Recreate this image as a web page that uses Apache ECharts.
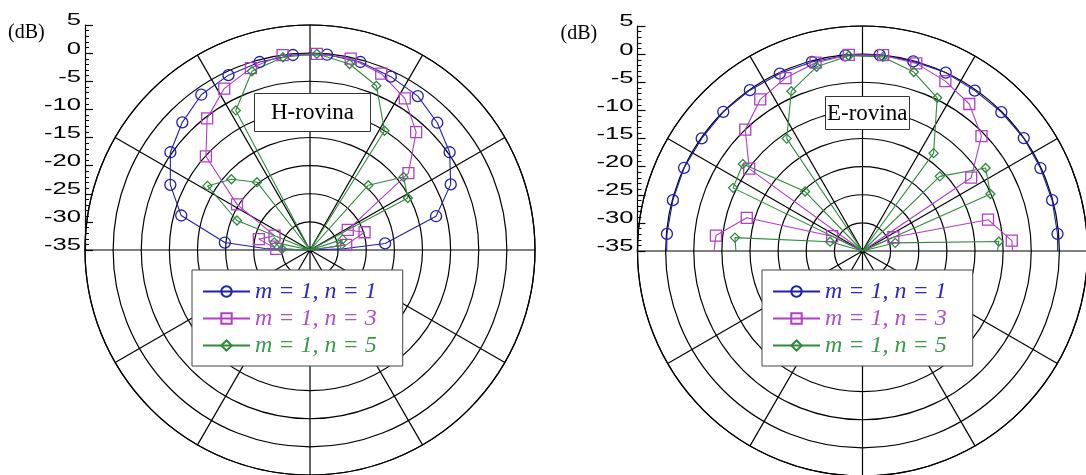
<!DOCTYPE html>
<html>
<head>
<meta charset="utf-8">
<script src="https://cdn.jsdelivr.net/npm/echarts@6/dist/echarts.min.js"></script>
<style>
  html, body { margin: 0; padding: 0; background: #fff; }
  #chart { width: 1086px; height: 475px; }
</style>
</head>
<body>
<div id="chart"></div>
<script>
// Radial level scale in dB (centre = -35 dB, outer ring = +5 dB)
const DB_TICKS = [5, 0, -5, -10, -15, -20, -25, -30, -35];
const DB_MIN = -35;
const DB_MAX = 5;

const PANEL_TITLES = ['H-rovina', 'E-rovina'];
const SERIES_NAMES = ['m = 1, n = 1', 'm = 1, n = 3', 'm = 1, n = 5'];

// Samples are [angle in degrees from broadside, level in dB].
// *_MARKS carry a symbol, *_CURVE are extra curve samples (nulls, end points).

// H-plane
const H_N1_MARKS = [[-85,-19.8],[-75,-11.3],[-65,-7.6],[-55,-4.7],[-45,-2.9],[-35,-1.3],[-25,-0.7],[-15,-0.4],[-5,-0.2],
                    [5,-0.15],[15,-0.4],[25,-1.0],[35,-1.6],[45,-3.0],[55,-4.7],[65,-7.4],[75,-11.8],[85,-21.6]];
const H_N1_CURVE = [[-90,-35],[-88,-27],[88,-29],[90,-35]];

const H_N3_MARKS = [[-88,-29.0],[-78,-25.7],[-68,-28.2],[-58,-19.7],[-48,-10.1],[-38,-5.3],[-28,-2.5],[-18,-1.0],[-8,0.0],
                    [2,-0.1],[12,-0.2],[22,-1.2],[32,-3.2],[42,-6.8],[52,-12.8],[62,-27.4],[72,-24.8],[82,-28.5]];
const H_N3_CURVE = [[-90,-35],[90,-35]];

const H_N5_MARKS = [[-88,-30.0],[-78,-28.5],[-68,-21.0],[-58,-13.5],[-48,-16.2],[-38,-19.7],[-28,-6.9],[-18,-1.6],[-8,-0.4],
                    [2,-0.1],[12,-1.2],[22,-3.5],[32,-10.0],[42,-19.5],[52,-13.9],[62,-15.3],[72,-28.9],[82,-29.5]];
const H_N5_CURVE = [[-90,-35],[-73,-35],[-34,-35],[37,-35],[68,-35],[90,-35]];

// E-plane
const E_N1_MARKS = [[-85,-0.1],[-75,-0.1],[-65,0.0],[-55,-0.1],[-45,0.0],[-35,-0.1],[-25,-0.2],[-15,-0.2],[-5,-0.1],
                    [5,0.0],[15,-0.1],[25,0.0],[35,-0.2],[45,-0.1],[55,0.0],[65,-0.1],[75,-0.1],[85,-0.2]];
const E_N1_CURVE = [[-90,-0.2],[90,-0.3]];

const E_N3_MARKS = [[-84,-8.8],[-74,-13.6],[-64,-29.0],[-54,-10.1],[-44,-5.0],[-34,-2.5],[-24,-1.35],[-14,-0.5],[-4,-0.05],
                    [6,0.0],[16,-0.3],[26,-1.4],[36,-2.7],[46,-5.6],[56,-11.7],[66,-29.0],[76,-12.0],[86,-8.4]];
const E_N3_CURVE = [[-90,-8.6],[-62,-35],[64,-35],[90,-8.3]];

const E_N5_MARKS = [[-84,-12.2],[-74,-29.0],[-64,-9.4],[-54,-8.7],[-44,-20.3],[-34,-10.9],[-24,-3.9],[-14,-1.25],[-4,-0.2],
                    [6,-0.3],[16,-1.9],[26,-4.7],[36,-13.5],[46,-15.9],[56,-8.6],[66,-10.1],[76,-29.0],[86,-10.7]];
const E_N5_CURVE = [[-90,-12.5],[-71,-35],[-39,-35],[40,-35],[73,-35],[90,-11.0]];

// Styling
const LINE_COLORS = ['#1f1fb0', '#b43cc8', '#2e8b3c'];
const TEXT_COLORS = ['#2a2acc', '#b04ed0', '#3a9a48'];
const SYMBOLS = ['circle', 'rect', 'diamond'];
const SYMBOL_SIZES = [11, 11, 9];
const INK = '#000';
const GRID_WIDTH = 1.2;

const PANELS = [
  { center: [310, 250], axisX: 85, top: 25, title: { left: 254, top: 93, padding: [8, 17, 8, 17] }, legendLeft: 192,
    sets: [[H_N1_MARKS, H_N1_CURVE], [H_N3_MARKS, H_N3_CURVE], [H_N5_MARKS, H_N5_CURVE]] },
  { center: [862.5, 251], axisX: 637.5, top: 26, title: { left: 825, top: 96, padding: [6, 2, 5, 2] }, legendLeft: 762,
    sets: [[E_N1_MARKS, E_N1_CURVE], [E_N3_MARKS, E_N3_CURVE], [E_N5_MARKS, E_N5_CURVE]] }
];
const RADIUS = 225;

// Merge marked and curve-only samples into one angle-ordered polyline ([radius, angle] for polar)
function buildData(marks, curve) {
  const items = marks.map(p => ({ value: [p[1], p[0]] }))
    .concat(curve.map(p => ({ value: [p[1], p[0]], symbol: 'none' })));
  items.sort((a, b) => a.value[1] - b.value[1]);
  return items;
}

const chart = echarts.init(document.getElementById('chart'), null, { renderer: 'canvas' });

const series = [];
PANELS.forEach((panel, pi) => {
  panel.sets.forEach((set, si) => {
    series.push({
      name: SERIES_NAMES[si],
      type: 'line',
      coordinateSystem: 'polar',
      polarIndex: pi,
      data: buildData(set[0], set[1]),
      symbol: SYMBOLS[si],
      symbolSize: SYMBOL_SIZES[si],
      showSymbol: true,
      showAllSymbol: true,
      color: LINE_COLORS[si],
      lineStyle: { color: LINE_COLORS[si], width: 1.1 },
      itemStyle: { color: 'rgba(255,255,255,0)', borderColor: LINE_COLORS[si], borderWidth: 1.3 },
      emphasis: { disabled: true },
      animation: false,
      z: 3
    });
  });
});

const option = {
  backgroundColor: '#fff',
  animation: false,
  polar: PANELS.map(p => ({ center: p.center, radius: RADIUS })),
  angleAxis: PANELS.map((p, i) => ({
    polarIndex: i, type: 'value', min: -180, max: 180, interval: 30,
    startAngle: 270, clockwise: true,
    axisLine: { show: true, lineStyle: { color: INK, width: GRID_WIDTH } },
    axisTick: { show: false }, axisLabel: { show: false },
    splitLine: { show: true, lineStyle: { color: INK, width: GRID_WIDTH } }
  })),
  radiusAxis: PANELS.map((p, i) => ({
    polarIndex: i, type: 'value', min: DB_MIN, max: DB_MAX, interval: 5,
    axisLine: { show: false }, axisTick: { show: false }, axisLabel: { show: false },
    splitLine: { show: true, lineStyle: { color: INK, width: GRID_WIDTH } }
  })),
  grid: PANELS.map(p => ({ left: p.axisX, top: p.top, width: 20, height: RADIUS, show: false })),
  xAxis: PANELS.map((p, i) => ({ gridIndex: i, type: 'value', show: false })),
  yAxis: PANELS.map((p, i) => ({
    gridIndex: i, type: 'value', min: DB_MIN, max: DB_MAX, interval: 5,
    axisLine: { show: true, onZero: false, lineStyle: { color: INK, width: GRID_WIDTH } },
    axisTick: { show: true, inside: true, length: 8, lineStyle: { color: INK, width: GRID_WIDTH } },
    minorTick: { show: true, splitNumber: 5, length: 4, lineStyle: { color: INK } },
    axisLabel: { show: false }, splitLine: { show: false }
  })),
  title: PANELS.map((p, i) => ({
    text: PANEL_TITLES[i], left: p.title.left, top: p.title.top, padding: p.title.padding,
    borderColor: '#333', borderWidth: 1, backgroundColor: '#fff',
    textStyle: { fontFamily: 'Liberation Serif', fontSize: 23, fontWeight: 'normal', color: INK }
  })),
  legend: PANELS.map(p => ({
    orient: 'vertical', left: p.legendLeft, top: 270,
    padding: [8, 26, 7, 10], itemGap: 0, itemWidth: 47, itemHeight: 13, itemTextGap: 5,
    backgroundColor: '#fff', borderColor: '#444', borderWidth: 1,
    selectedMode: false,
    textStyle: { fontFamily: 'Liberation Serif', fontStyle: 'italic', fontSize: 24, lineHeight: 27 },
    data: SERIES_NAMES.map((n, k) => ({ name: n, textStyle: { color: TEXT_COLORS[k] } }))
  })),
  series: series
};

chart.setOption(option);

// Tick labels for the dB scale, placed with the axis scale and widened like the original lettering
const graphics = [];
PANELS.forEach((p, i) => {
  DB_TICKS.forEach(v => {
    const y = chart.convertToPixel({ yAxisIndex: i }, v);
    graphics.push({
      type: 'text', x: p.axisX - 4, y: y - 4, scaleX: 1.6, z: 10,
      style: { text: String(v), fontFamily: 'Liberation Sans', fontSize: 16, fill: INK, align: 'right', verticalAlign: 'middle' }
    });
  });
  graphics.push({
    type: 'text', x: p.axisX - 77, y: p.top + 8, z: 10,
    style: { text: '(dB)', fontFamily: 'Liberation Serif', fontSize: 20, fill: INK, align: 'left', verticalAlign: 'middle' }
  });
});
chart.setOption({ graphic: graphics });
</script>
</body>
</html>
